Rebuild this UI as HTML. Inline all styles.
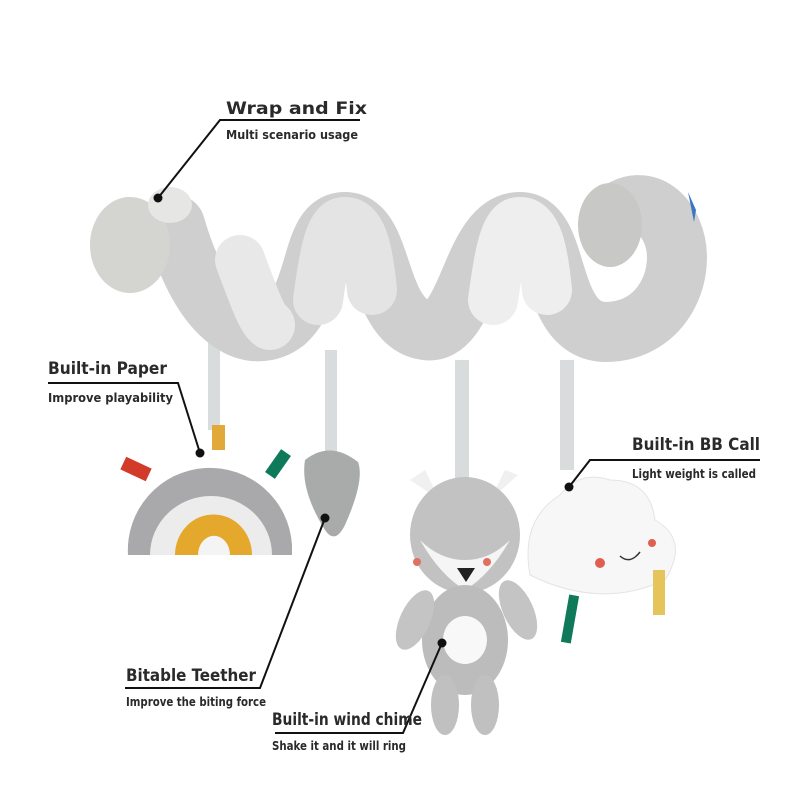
<!DOCTYPE html>
<html><head><meta charset="utf-8"><style>
html,body{margin:0;padding:0;background:#fff;}
svg{display:block}
.h{font-family:"DejaVu Sans Condensed","Liberation Sans",sans-serif;font-weight:bold;font-size:17px;fill:#2a2a2a}
.s{font-family:"DejaVu Sans Condensed","Liberation Sans",sans-serif;font-weight:bold;font-size:12px;fill:#2a2a2a}
</style></head><body>
<svg width="800" height="800" viewBox="0 0 800 800" xmlns="http://www.w3.org/2000/svg">
<rect width="800" height="800" fill="#fff"/>
<!-- straps -->
<g fill="#d9dcdd">
<rect x="208" y="340" width="12" height="90"/>
<rect x="325" y="350" width="12" height="105"/>
<rect x="455" y="360" width="14" height="120"/>
<rect x="560" y="360" width="14" height="110"/>
</g>
<!-- spiral -->
<g fill="none" stroke-linecap="round">
<path d="M175 225 C205 330,255 345,285 322 C320 290,310 222,345 222 C385 222,375 322,425 330 C470 338,470 222,520 222 C562 222,545 330,605 332 C665 332,688 270,672 232 C658 198,625 198,610 222" stroke="#cfcfcf" stroke-width="60"/>
<path d="M318 300 C325 250,330 222,345 222 C362 222,368 250,372 290" stroke="#e4e4e4" stroke-width="50"/>
<path d="M493 300 C500 250,505 222,520 222 C537 222,543 250,547 290" stroke="#eeeeee" stroke-width="50"/>
<path d="M240 260 C255 300,262 320,270 325" stroke="#e8e8e8" stroke-width="50"/>
</g>
<ellipse cx="130" cy="245" rx="40" ry="48" fill="#d4d4d0"/>
<ellipse cx="170" cy="205" rx="22" ry="18" fill="#e6e6e4"/>
<ellipse cx="610" cy="225" rx="32" ry="42" fill="#c8c8c6"/>
<path d="M688 192 L696 210 L694 222 Z" fill="#3a78c2"/>
<!-- rainbow -->
<rect x="122" y="462" width="28" height="14" fill="#d23a2a" transform="rotate(25 136 469)"/>
<rect x="212" y="425" width="13" height="25" fill="#e0a93a"/>
<rect x="272" y="450" width="12" height="28" fill="#0e7a5a" transform="rotate(35 278 464)"/>
<path d="M128 555 A80 80 0 0 1 292 545 L292 555 Z" fill="#a9a9ab"/>
<path d="M150 555 A60 58 0 0 1 272 555 Z" fill="#ececec"/>
<path d="M175 555 A38 40 0 0 1 252 555 Z" fill="#e4a82c"/>
<path d="M198 555 A15 18 0 0 1 230 555 Z" fill="#f4f4f4"/>
<!-- teether -->
<path d="M305 460 Q330 440,358 462 Q365 480,345 525 Q335 545,325 530 Q300 490,305 460 Z" fill="#a9abab"/>
<!-- fox -->
<path d="M410 480 L425 470 L440 500 Z" fill="#f0f0f0"/>
<path d="M518 475 L505 470 L490 500 Z" fill="#f0f0f0"/>
<ellipse cx="465" cy="535" rx="55" ry="58" fill="#c2c2c2"/>
<path d="M420 540 Q440 575,465 590 Q490 575,510 540 Q490 560,465 560 Q440 560,420 540Z" fill="#f5f5f5"/>
<ellipse cx="465" cy="640" rx="43" ry="55" fill="#bcbcbc"/>
<ellipse cx="415" cy="620" rx="15" ry="32" fill="#c4c4c4" transform="rotate(25 415 620)"/>
<ellipse cx="518" cy="610" rx="15" ry="32" fill="#c4c4c4" transform="rotate(-25 518 610)"/>
<ellipse cx="465" cy="640" rx="22" ry="24" fill="#f8f8f8"/>
<ellipse cx="445" cy="705" rx="14" ry="30" fill="#c0c0c0"/>
<ellipse cx="485" cy="705" rx="14" ry="30" fill="#c0c0c0"/>
<path d="M457 568 L475 568 L466 582 Z" fill="#222"/>
<circle cx="417" cy="562" r="4" fill="#e07060"/><circle cx="487" cy="562" r="4" fill="#e07060"/>
<!-- cloud -->
<path d="M530 575 Q520 520,560 495 Q580 470,610 480 Q650 480,655 520 Q690 540,665 580 Q600 610,530 575 Z" fill="#f7f7f7" stroke="#e4e4e4"/>
<rect x="565" y="595" width="10" height="48" fill="#0e7a5a" transform="rotate(10 570 619)"/>
<rect x="653" y="570" width="12" height="45" fill="#e6c45c"/>
<circle cx="600" cy="563" r="5" fill="#e06050"/><circle cx="652" cy="543" r="4" fill="#e06050"/>
<path d="M620 556 Q630 565,640 552" stroke="#333" stroke-width="1.5" fill="none"/>
<!-- callouts -->
<g stroke="#111" stroke-width="2" fill="none">
<polyline points="360,120 220,120 158,198"/>
<polyline points="48,383 178,383 200,453"/>
<polyline points="760,460 590,460 569,487"/>
<polyline points="125,688 260,688 325,518"/>
<polyline points="275,733 403,733 442,643"/>
</g>
<g fill="#111">
<circle cx="158" cy="198" r="4.5"/><circle cx="200" cy="453" r="4.5"/><circle cx="569" cy="487" r="4.5"/><circle cx="325" cy="518" r="4.5"/><circle cx="442" cy="643" r="4.5"/>
</g>
<text class="h" x="226" y="114" textLength="141" lengthAdjust="spacingAndGlyphs">Wrap and Fix</text>
<text class="s" x="226" y="139" textLength="132" lengthAdjust="spacingAndGlyphs">Multi scenario usage</text>
<text class="h" x="48" y="374" textLength="119" lengthAdjust="spacingAndGlyphs">Built-in Paper</text>
<text class="s" x="48" y="402" textLength="125" lengthAdjust="spacingAndGlyphs">Improve playability</text>
<text class="h" x="632" y="450" textLength="128" lengthAdjust="spacingAndGlyphs">Built-in BB Call</text>
<text class="s" x="632" y="478" textLength="124" lengthAdjust="spacingAndGlyphs">Light weight is called</text>
<text class="h" x="126" y="681" textLength="130" lengthAdjust="spacingAndGlyphs">Bitable Teether</text>
<text class="s" x="126" y="706" textLength="140" lengthAdjust="spacingAndGlyphs">Improve the biting force</text>
<text class="h" x="272" y="725" textLength="150" lengthAdjust="spacingAndGlyphs">Built-in wind chime</text>
<text class="s" x="272" y="750" textLength="134" lengthAdjust="spacingAndGlyphs">Shake it and it will ring</text>
</svg>
</body></html>
